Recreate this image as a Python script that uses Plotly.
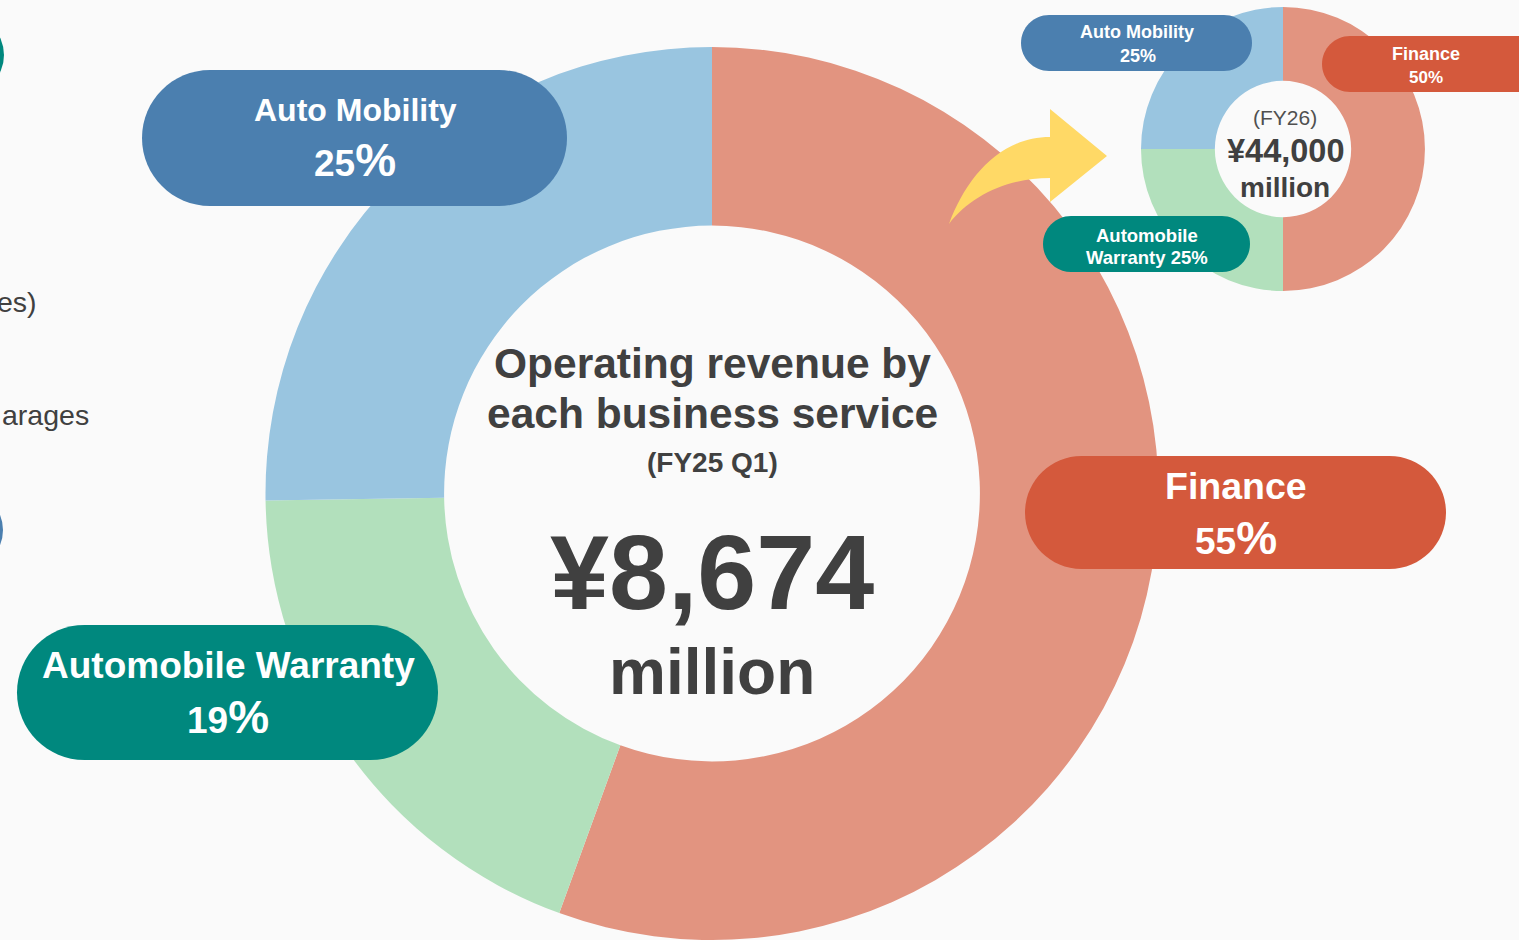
import plotly.graph_objects as go

# ---------------- data ----------------
segments_main = ["Finance", "Automobile Warranty", "Auto Mobility"]
share_main = [55, 19, 25]          # FY25 Q1, %
segments_fy26 = ["Finance", "Automobile Warranty", "Auto Mobility"]
share_fy26 = [50, 25, 25]          # FY26 plan, %
total_main = "¥8,674"
total_fy26 = "¥44,000"

slice_colors = {"Finance": "#E29480", "Automobile Warranty": "#B2E0BC", "Auto Mobility": "#99C5E0"}
pill_colors = {"Finance": "#D4593C", "Automobile Warranty": "#00887E", "Auto Mobility": "#4B7FAF"}

W, H = 1519, 940
BG = "#FAFAFA"
FONT = "Arial"
DARK = "#404040"

fig = go.Figure()

# big donut: center (712,495), r=448
cx, cy, r = 712, 495, 448
fig.add_trace(go.Pie(
    labels=segments_main, values=share_main, sort=False, direction="clockwise",
    rotation=0, hole=0.60, textinfo="none", hoverinfo="skip",
    marker=dict(colors=[slice_colors[s] for s in segments_main], line=dict(width=0)),
    domain=dict(x=[(cx - r) / W, (cx + r) / W], y=[0, (H - cy + r) / H]),
    showlegend=False,
))

# small donut: center (1283,149), r=142
sx, sy, sr = 1283, 149, 142
fig.add_trace(go.Pie(
    labels=segments_fy26, values=share_fy26, sort=False, direction="clockwise",
    rotation=0, hole=0.48, textinfo="none", hoverinfo="skip",
    marker=dict(colors=[slice_colors[s] for s in segments_fy26], line=dict(width=0)),
    domain=dict(x=[(sx - sr) / W, (sx + sr) / W], y=[(H - sy - sr) / H, (H - sy + sr) / H]),
    showlegend=False,
))


def pill(x0, y0, x1, y1, rx=None):
    h = y1 - y0
    ry = h / 2
    if rx is None:
        rx = ry
    k = 0.5523
    p = [f"M {x0 + rx},{y0}", f"L {x1 - rx},{y0}",
         f"C {x1 - rx + k * rx},{y0} {x1},{y0 + ry - k * ry} {x1},{y0 + ry}",
         f"C {x1},{y0 + ry + k * ry} {x1 - rx + k * rx},{y1} {x1 - rx},{y1}",
         f"L {x0 + rx},{y1}",
         f"C {x0 + rx - k * rx},{y1} {x0},{y0 + ry + k * ry} {x0},{y0 + ry}",
         f"C {x0},{y0 + ry - k * ry} {x0 + rx - k * rx},{y0} {x0 + rx},{y0}", "Z"]
    return " ".join(p)


shapes = []
# left-edge partial circles (page remnants)
shapes.append(dict(type="circle", xref="x", yref="y", x0=-76, x1=4, y0=15, y1=95,
                   fillcolor="#00887E", line=dict(width=0), layer="above"))
shapes.append(dict(type="circle", xref="x", yref="y", x0=-76, x1=3, y0=490, y1=570,
                   fillcolor="#4B7FAF", line=dict(width=0), layer="above"))

# arrow
arrow = ("M 949,224 C 966,178 1000,137 1050,137 L 1050,109 L 1107,156 L 1050,202 L 1050,178 "
         "C 1008,178 970,196 949,224 Z")
shapes.append(dict(type="path", xref="x", yref="y", path=arrow, fillcolor="#FFD966",
                   line=dict(width=0), layer="above"))

pills = [
    ("Auto Mobility", 142, 70, 567, 206),
    ("Finance", 1025, 456, 1446, 569),
    ("Automobile Warranty", 17, 625, 438, 760),
    ("Auto Mobility", 1021, 15, 1252, 71),
    ("Finance", 1322, 36, 1560, 92),
    ("Automobile Warranty", 1043, 216, 1250, 272),
]
for name, x0, y0, x1, y1 in pills:
    shapes.append(dict(type="path", xref="x", yref="y", path=pill(x0, y0, x1, y1),
                       fillcolor=pill_colors[name], line=dict(width=0), layer="above"))

ann = []


def txt(x, y, text, size, color="white", bold=True):
    ann.append(dict(x=x, y=y, xref="x", yref="y", text=(f"<b>{text}</b>" if bold else text),
                    showarrow=False, xanchor="center", yanchor="middle",
                    font=dict(family=FONT, size=size, color=color)))


def pct(v, psize):
    return f"{v}<span style='font-size:{psize}px'>%</span>"


# big pills
txt(355, 110, segments_main[2], 32)
txt(355, 160, pct(share_main[2], 46), 37)
txt(1236, 486, segments_main[0], 37.5)
txt(1236, 538, pct(share_main[0], 46), 37)
txt(228, 665, segments_main[1], 37)
txt(228, 717, pct(share_main[1], 46), 37)

# small pills
txt(1137, 32, segments_fy26[2], 18)
txt(1138, 56, f"{share_fy26[2]}%", 18)
txt(1426, 54, segments_fy26[0], 18)
txt(1426, 77, f"{share_fy26[0]}%", 17)
txt(1147, 235, "Automobile", 18.5)
txt(1147, 257, f"Warranty {share_fy26[1]}%", 18.5)

# big centre
txt(712, 363, "Operating revenue by", 42.5, DARK)
txt(712, 413, "each business service", 42.5, DARK)
txt(712, 462, "(FY25 Q1)", 28, DARK)
txt(712, 572, total_main, 106, DARK)
txt(712, 672, "million", 64, DARK)

# small centre
txt(1285, 117, "(FY26)", 21, "#505050", bold=False)
txt(1285, 151, total_fy26, 32.5, DARK)
txt(1285, 187, "million", 28, DARK)

# left-edge page remnants
ann.append(dict(x=39, y=302, xref="x", yref="y", text="es)", showarrow=False,
                xanchor="right", yanchor="middle", font=dict(family=FONT, size=28.5, color=DARK)))
ann.append(dict(x=91, y=415, xref="x", yref="y", text="arages", showarrow=False,
                xanchor="right", yanchor="middle", font=dict(family=FONT, size=28.5, color=DARK)))

fig.update_layout(
    width=W, height=H, margin=dict(l=0, r=0, t=0, b=0),
    paper_bgcolor=BG, plot_bgcolor="rgba(0,0,0,0)",
    xaxis=dict(range=[0, W], visible=False, fixedrange=True),
    yaxis=dict(range=[H, 0], visible=False, fixedrange=True),
    shapes=shapes, annotations=ann, showlegend=False,
)

fig.write_html("out.html", config={"displayModeBar": False},
               post_script="document.body.style.margin='0';document.body.style.overflow='hidden';")
